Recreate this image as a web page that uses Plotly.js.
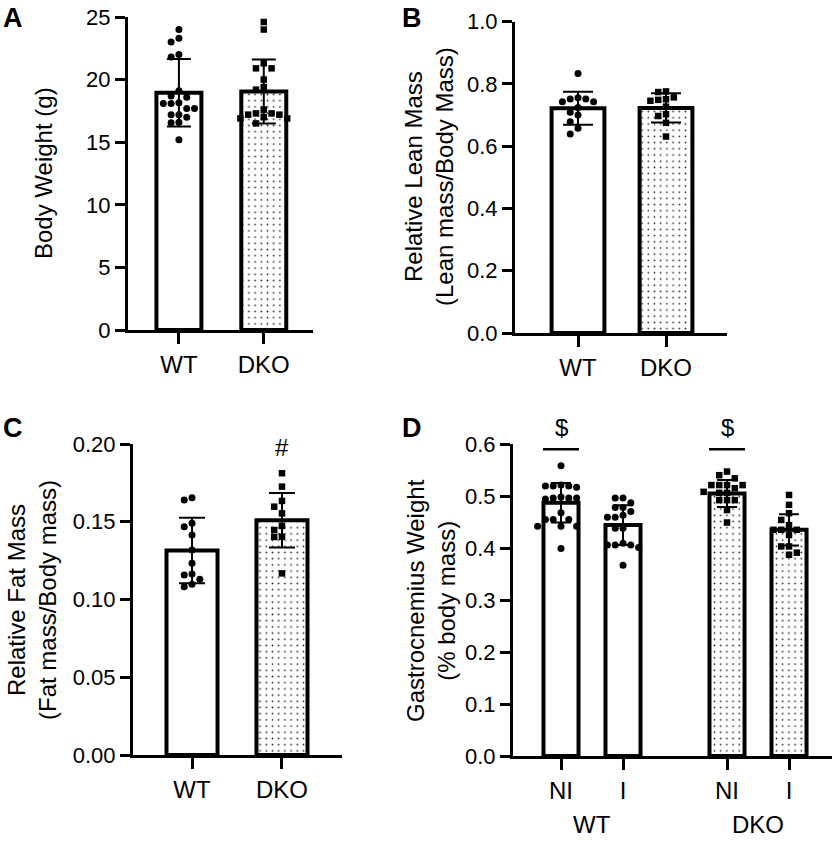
<!DOCTYPE html>
<html><head><meta charset="utf-8">
<script src="https://cdn.plot.ly/plotly-3.0.1.min.js"></script>
<style>html,body{margin:0;padding:0;background:#fff;}#chart{width:833px;height:842px;}</style>
</head><body><div id="chart"></div>
<script>
// ---------- DATA ----------
// Panel A: Body weight (g)
const groupsAB = ['WT', 'DKO'];
const bodyWeightMean = [18.95, 19.05];
const bodyWeightSD = [2.7, 2.55];
const bodyWeightWT = [24.0, 23.3, 23.0, 22.0, 21.8, 19.1, 18.7, 18.6, 18.15, 18.1, 18.1, 17.7, 17.7, 17.2, 17.2, 17.0, 16.6, 16.55, 15.2];
const bodyWeightDKO = [24.6, 24.0, 21.3, 20.9, 20.9, 20.0, 19.4, 19.2, 17.6, 17.3, 17.3, 17.2, 17.2, 17.0, 16.9, 16.9, 16.5];

// Panel B: Relative lean mass
const leanMean = [0.722, 0.723];
const leanSD = [0.053, 0.047];
const leanWT = [0.834, 0.756, 0.752, 0.752, 0.743, 0.743, 0.724, 0.709, 0.700, 0.679, 0.658, 0.639];
const leanDKO = [0.776, 0.774, 0.757, 0.751, 0.749, 0.746, 0.727, 0.703, 0.697, 0.675, 0.631];

// Panel C: Relative fat mass
const fatMean = [0.1315, 0.151];
const fatSD = [0.021, 0.0175];
const fatWT = [0.1655, 0.164, 0.149, 0.1468, 0.1415, 0.1318, 0.1233, 0.1164, 0.1158, 0.113, 0.1098, 0.1082];
const fatDKO = [0.1812, 0.1726, 0.1634, 0.1597, 0.1554, 0.1473, 0.1447, 0.1404, 0.1402, 0.1168];

// Panel D: Gastrocnemius weight (% body mass)
const gastroGroups = ['WT', 'DKO'];
const gastroConditions = ['NI', 'I'];
const gastroMean = [0.487, 0.444, 0.505, 0.435];
const gastroSD = [0.038, 0.038, 0.026, 0.030];
const gastroWTNI = [0.558, 0.521, 0.519, 0.519, 0.519, 0.517, 0.498, 0.496, 0.496, 0.494, 0.496, 0.468, 0.455, 0.455, 0.455, 0.442, 0.442, 0.442, 0.399];
const gastroWTI = [0.496, 0.496, 0.487, 0.478, 0.478, 0.470, 0.463, 0.459, 0.459, 0.438, 0.438, 0.409, 0.406, 0.406, 0.406, 0.401, 0.367];
const gastroDKONI = [0.547, 0.540, 0.534, 0.521, 0.521, 0.521, 0.521, 0.515, 0.508, 0.506, 0.506, 0.492, 0.492, 0.492, 0.473, 0.449];
const gastroDKOI = [0.502, 0.483, 0.467, 0.454, 0.444, 0.435, 0.435, 0.435, 0.425, 0.403, 0.403, 0.387, 0.391];

// ---------- LAYOUT HELPERS ----------
const W = 833, H = 842;
const FONT = 'Liberation Sans, Arial, Helvetica, sans-serif';
const px = p => p / W;
const py = p => 1 - p / H;

const panels = {
  A: {xd: [128, 313], yd: [330, 17], xr: [-0.6, 1.58], yr: [0, 25], dtick: 5, fmt: 'd', bw: 0.53, cap: 12},
  B: {xd: [515, 727], yd: [333, 21.7], xr: [-0.716, 1.693], yr: [0, 1], dtick: 0.2, fmt: '.1f', bw: 0.60, cap: 15},
  C: {xd: [133, 342], yd: [755, 444], xr: [-0.656, 1.667], yr: [0, 0.2], dtick: 0.05, fmt: '.2f', bw: 0.567, cap: 13},
  D: {xd: [513, 832], yd: [756, 444], xr: [-0.774, 4.37], yr: [0, 0.6], dtick: 0.1, fmt: '.1f', bw: 0.565, cap: 10}
};
const groupGapD = 2.677;

function scales(p) {
  const pxPerX = (p.xd[1] - p.xd[0]) / (p.xr[1] - p.xr[0]);
  const pxPerY = (p.yd[0] - p.yd[1]) / (p.yr[1] - p.yr[0]);
  return {pxPerX, pxPerY};
}

// deterministic swarm layout from values
function swarm(vals, center, p, lanePx, diam) {
  const s = scales(p);
  const placed = [];
  const order = [0, -1, 1, -2, 2, -3, 3, -4, 4, -5, 5];
  return vals.map(v => {
    for (const k of order) {
      const ok = placed.every(q => q.k !== k || Math.abs(q.v - v) * s.pxPerY >= diam);
      if (ok) { placed.push({k, v}); return center + k * lanePx / s.pxPerX; }
    }
    return center;
  });
}

const traces = [];
function addPanel(key, ax, xs, means, sds, patterns, pointSets, symbols) {
  const p = panels[key];
  traces.push({
    type: 'bar', x: xs, y: means, width: p.bw,
    xaxis: 'x' + ax, yaxis: 'y' + ax,
    marker: {color: 'white', line: {color: 'black', width: 4},
      pattern: {shape: patterns, fgcolor: '#222', bgcolor: 'white', size: 6.2, solidity: 0.06}},
    error_y: {type: 'data', array: sds, visible: true, color: 'black', thickness: 2, width: p.cap},
    hoverinfo: 'skip'
  });
  pointSets.forEach((vals, i) => {
    traces.push({
      type: 'scatter', mode: 'markers',
      x: swarm(vals, xs[i], p, 7.8, 6.8),
      y: vals, xaxis: 'x' + ax, yaxis: 'y' + ax, cliponaxis: false,
      marker: {symbol: symbols[i], size: symbols[i] === 'square' ? 6.5 : 7, color: 'black', line: {width: 0}},
      hoverinfo: 'skip'
    });
  });
}

const posAB = [0, 1];
const posD = [];
gastroGroups.forEach((g, gi) => gastroConditions.forEach((c, ci) => posD.push(gi * groupGapD + ci)));

addPanel('A', '', posAB, bodyWeightMean, bodyWeightSD, ['', '.'], [bodyWeightWT, bodyWeightDKO], ['circle', 'square']);
addPanel('B', '2', posAB, leanMean, leanSD, ['', '.'], [leanWT, leanDKO], ['circle', 'square']);
addPanel('C', '3', posAB, fatMean, fatSD, ['', '.'], [fatWT, fatDKO], ['circle', 'square']);
addPanel('D', '4', posD, gastroMean, gastroSD, ['', '', '.', '.'],
  [gastroWTNI, gastroWTI, gastroDKONI, gastroDKOI], ['circle', 'circle', 'square', 'square']);

function xAxis(p, tickvals, ticktext, anchor) {
  return {domain: [px(p.xd[0]), px(p.xd[1])], range: p.xr, anchor: anchor,
    tickvals: tickvals, ticktext: ticktext, showline: true, linecolor: 'black', linewidth: 3,
    ticks: 'outside', ticklen: 11, tickwidth: 3, tickcolor: 'black', showgrid: false, zeroline: false,
    fixedrange: true, tickfont: {family: FONT, size: 24, color: 'black'}};
}
function yAxis(p, anchor) {
  return {domain: [py(p.yd[0]), py(p.yd[1])], range: p.yr, anchor: anchor,
    dtick: p.dtick, tick0: 0, tickformat: p.fmt, showline: true, linecolor: 'black', linewidth: 3,
    ticks: 'outside', ticklen: 10, tickwidth: 3, tickcolor: 'black', showgrid: false, zeroline: false,
    fixedrange: true, tickfont: {family: FONT, size: 22, color: 'black'}};
}

const dTickText = [];
gastroGroups.forEach(() => gastroConditions.forEach(c => dTickText.push(c)));

const ann = [];
function label(text, x, y, size, opts) {
  ann.push(Object.assign({text, x, y, xref: 'paper', yref: 'paper', showarrow: false,
    xanchor: 'center', yanchor: 'middle', font: {family: FONT, size, color: 'black'}}, opts || {}));
}
// panel letters
label('<b>A</b>', px(13), py(18), 27);
label('<b>B</b>', px(412), py(18), 27);
label('<b>C</b>', px(13), py(428), 27);
label('<b>D</b>', px(412), py(428), 27);
// y-axis titles
label('Body Weight (g)', px(43), py(173), 24, {textangle: -90});
label('Relative Lean Mass<br>(Lean mass/Body Mass)', px(429), py(177), 24, {textangle: -90});
label('Relative Fat Mass<br>(Fat mass/Body mass)', px(32), py(600), 24, {textangle: -90});
label('Gastrocnemius Weight<br>(% body mass)', px(431), py(600), 24, {textangle: -90});
// group labels panel D
gastroGroups.forEach((g, gi) => {
  ann.push({text: g, x: gi * groupGapD + 0.5, xref: 'x4', y: py(824), yref: 'paper', showarrow: false,
    xanchor: 'center', yanchor: 'middle', font: {family: FONT, size: 24, color: 'black'}});
});
// significance markers
ann.push({text: '#', x: 1, xref: 'x3', y: py(447), yref: 'paper', showarrow: false,
  xanchor: 'center', yanchor: 'middle', font: {family: FONT, size: 24, color: 'black'}});
const shapes = [];
[0, 2].forEach(i => {
  ann.push({text: '$', x: posD[i], xref: 'x4', y: py(427), yref: 'paper', showarrow: false,
    xanchor: 'center', yanchor: 'middle', font: {family: FONT, size: 24, color: 'black'}});
  shapes.push({type: 'line', xref: 'x4', yref: 'y4', x0: posD[i] - 0.29, x1: posD[i] + 0.29,
    y0: 0.59, y1: 0.59, line: {color: 'black', width: 2.5}});
});

const layout = {
  width: W, height: H, margin: {l: 0, r: 0, t: 0, b: 0},
  paper_bgcolor: 'white', plot_bgcolor: 'rgba(0,0,0,0)', showlegend: false,
  font: {family: FONT, color: 'black'},
  xaxis: xAxis(panels.A, posAB, groupsAB, 'y'),
  yaxis: yAxis(panels.A, 'x'),
  xaxis2: xAxis(panels.B, posAB, groupsAB, 'y2'),
  yaxis2: yAxis(panels.B, 'x2'),
  xaxis3: xAxis(panels.C, posAB, groupsAB, 'y3'),
  yaxis3: yAxis(panels.C, 'x3'),
  xaxis4: xAxis(panels.D, posD, dTickText, 'y4'),
  yaxis4: yAxis(panels.D, 'x4'),
  annotations: ann, shapes: shapes, bargap: 0
};

Plotly.newPlot('chart', traces, layout, {staticPlot: true, displayModeBar: false});
</script>
</body></html>
